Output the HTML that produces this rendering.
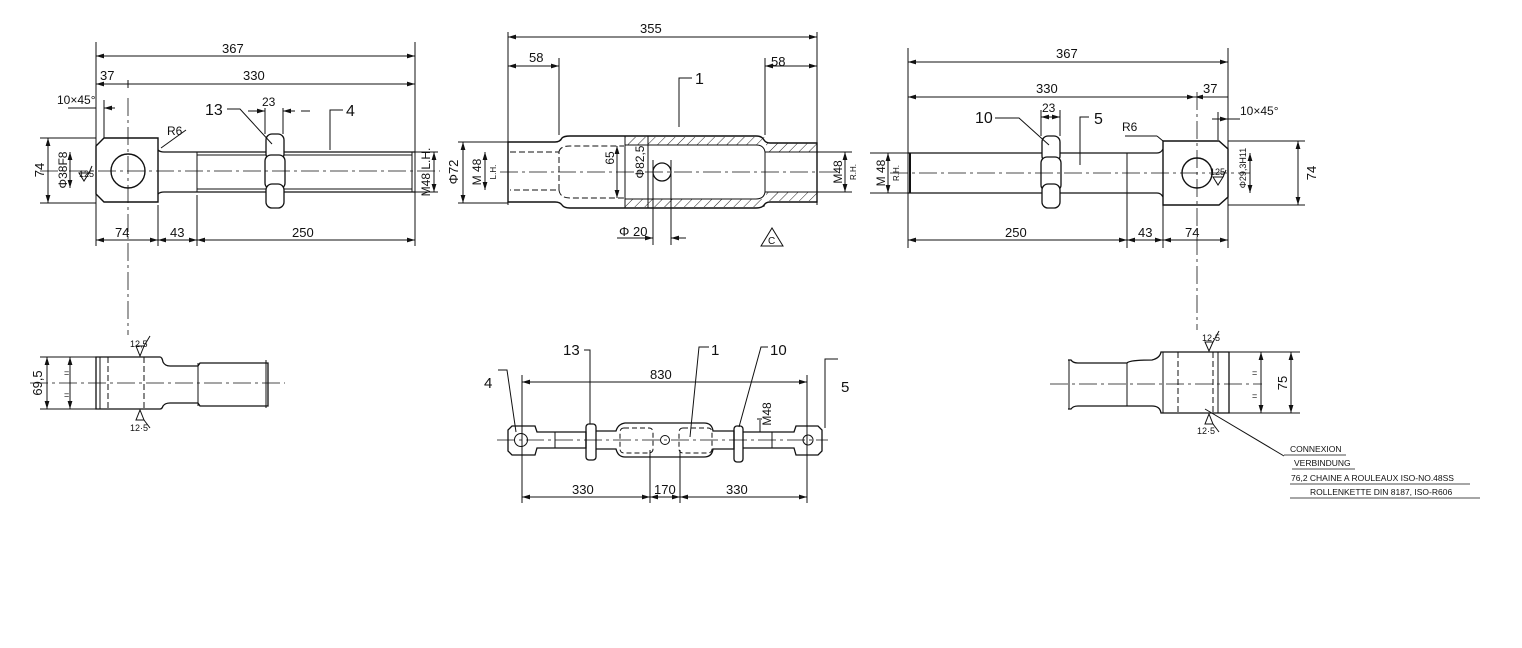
<!DOCTYPE html>
<html><head><meta charset="utf-8"><style>
html,body{margin:0;padding:0;background:#fff;}
svg{display:block;}
text{font-family:"Liberation Sans",sans-serif;fill:#111;}
</style></head><body>
<svg width="1522" height="648" viewBox="0 0 1522 648" xmlns="http://www.w3.org/2000/svg">
<defs>
<marker id="a" viewBox="0 0 10 6" refX="10" refY="3" markerWidth="8" markerHeight="5" orient="auto-start-reverse"><path d="M0,0L10,3L0,6z" fill="#111"/></marker>
<pattern id="h" width="7" height="7" patternUnits="userSpaceOnUse" patternTransform="rotate(45)"><line x1="0" y1="0" x2="0" y2="7" stroke="#222" stroke-width="1"/></pattern>
</defs>
<g stroke="#111" stroke-width="1" fill="none">
<!-- ===== LEFT VIEW (part 4) ===== -->
<line x1="96" y1="42" x2="96" y2="246"/><line x1="415" y1="42" x2="415" y2="246"/>
<line x1="96" y1="56" x2="415" y2="56" marker-start="url(#a)" marker-end="url(#a)"/>
<line x1="96" y1="84" x2="415" y2="84" marker-start="url(#a)" marker-end="url(#a)"/>
<line x1="128" y1="80" x2="128" y2="88"/>
<line x1="68" y1="108" x2="96" y2="108"/><line x1="104" y1="108" x2="115" y2="108" marker-start="url(#a)"/>
<line x1="104" y1="100" x2="104" y2="138"/>
<path d="M104,138H158V202H104L96,194V146Z" stroke-width="1.4"/>
<circle cx="128" cy="171" r="17" stroke-width="1.4"/>
<path d="M158,150Q160,152 164,152H415M164,192Q160,192 158,194M164,192H415" stroke-width="1.3"/>
<line x1="197" y1="152" x2="197" y2="192"/><line x1="197" y1="155" x2="412" y2="155"/><line x1="197" y1="189" x2="412" y2="189"/>
<line x1="412" y1="152" x2="412" y2="192"/>
<line x1="161" y1="148" x2="186" y2="130"/>
<rect x="266" y="160" width="18" height="24" fill="#fff"/>
<rect x="266" y="134" width="18" height="26" rx="6" fill="#fff" stroke-width="1.3"/>
<rect x="265" y="155" width="20" height="34" rx="6" fill="#fff" stroke-width="1.3"/>
<rect x="266" y="184" width="18" height="24" rx="6" fill="#fff" stroke-width="1.3"/>
<line x1="265" y1="108" x2="265" y2="134"/><line x1="283" y1="108" x2="283" y2="134"/>
<line x1="248" y1="111" x2="265" y2="111" marker-end="url(#a)"/><line x1="283" y1="111" x2="310" y2="111" marker-start="url(#a)" stroke-dasharray="12 6"/>
<path d="M227,109H240L272,144"/>
<path d="M343,110H330V150"/>
<line x1="40" y1="171" x2="440" y2="171" stroke-dasharray="18 4 3 4" stroke-width=".8"/>
<line x1="128" y1="98" x2="128" y2="335" stroke-dasharray="18 4 3 4" stroke-width=".8"/>
<line x1="40" y1="138" x2="96" y2="138"/><line x1="40" y1="203" x2="96" y2="203"/>
<line x1="48" y1="138" x2="48" y2="203" marker-start="url(#a)" marker-end="url(#a)"/>
<line x1="70" y1="152" x2="70" y2="188" marker-start="url(#a)" marker-end="url(#a)"/>
<line x1="415" y1="152" x2="438" y2="152"/><line x1="415" y1="192" x2="438" y2="192"/>
<line x1="434" y1="152" x2="434" y2="192" marker-start="url(#a)" marker-end="url(#a)"/>
<path d="M79,173H89L84,181Z"/><line x1="89" y1="173" x2="92" y2="166"/>
<line x1="158" y1="205" x2="158" y2="246"/><line x1="197" y1="195" x2="197" y2="246"/>
<line x1="96" y1="240" x2="158" y2="240" marker-start="url(#a)" marker-end="url(#a)"/>
<line x1="158" y1="240" x2="197" y2="240" marker-start="url(#a)" marker-end="url(#a)"/>
<line x1="197" y1="240" x2="415" y2="240" marker-start="url(#a)" marker-end="url(#a)"/>

<!-- ===== MIDDLE VIEW (part 1) ===== -->
<line x1="508" y1="32" x2="508" y2="205"/><line x1="817" y1="32" x2="817" y2="205"/>
<line x1="508" y1="37" x2="817" y2="37" marker-start="url(#a)" marker-end="url(#a)"/>
<line x1="559" y1="58" x2="559" y2="135"/><line x1="765" y1="58" x2="765" y2="135"/>
<line x1="508" y1="66" x2="559" y2="66" marker-start="url(#a)" marker-end="url(#a)"/>
<line x1="765" y1="66" x2="817" y2="66" marker-start="url(#a)" marker-end="url(#a)"/>
<rect x="625" y="137" width="140" height="8" fill="url(#h)" stroke="none"/>
<rect x="625" y="199" width="140" height="8" fill="url(#h)" stroke="none"/>
<rect x="766" y="143" width="51" height="9" fill="url(#h)" stroke="none"/>
<rect x="766" y="192" width="51" height="9" fill="url(#h)" stroke="none"/>
<path d="M508,142H555Q560,142 562,138Q564,136 570,136H756Q762,136 764,140Q766,143 770,143H817V202H770Q766,202 764,205Q762,208 756,208H570Q564,208 562,205Q560,202 555,202H508Z" stroke-width="1.4"/>
<path d="M510,152H559V190H510M559,152Q560,146 570,146H624M559,190Q560,198 570,198H624" stroke-dasharray="6 3"/>
<line x1="625" y1="136" x2="625" y2="208"/><line x1="648" y1="136" x2="648" y2="208"/>
<path d="M625,145H756Q764,145 765,152H817M625,199H756Q764,199 765,192H817"/>
<line x1="765" y1="152" x2="765" y2="192"/>
<circle cx="662" cy="172" r="9" stroke-width="1.3"/>
<line x1="500" y1="172" x2="840" y2="172" stroke-dasharray="18 4 3 4" stroke-width=".8"/>
<line x1="653" y1="160" x2="653" y2="245"/><line x1="671" y1="160" x2="671" y2="245"/>
<line x1="617" y1="238" x2="653" y2="238" marker-end="url(#a)"/><line x1="671" y1="238" x2="686" y2="238" marker-start="url(#a)"/>
<path d="M679,127V78H692"/>
<line x1="458" y1="142" x2="508" y2="142"/><line x1="458" y1="203" x2="508" y2="203"/>
<line x1="463" y1="142" x2="463" y2="203" marker-start="url(#a)" marker-end="url(#a)"/>
<line x1="485" y1="152" x2="485" y2="190" marker-start="url(#a)" marker-end="url(#a)"/>
<line x1="617" y1="146" x2="617" y2="198" marker-start="url(#a)" marker-end="url(#a)"/>
<line x1="817" y1="152" x2="852" y2="152"/><line x1="817" y1="192" x2="852" y2="192"/>
<line x1="845" y1="152" x2="845" y2="192" marker-start="url(#a)" marker-end="url(#a)"/>
<path d="M761,246L772,228L783,246Z"/>

<!-- ===== RIGHT VIEW (part 5) ===== -->
<line x1="908" y1="48" x2="908" y2="248"/><line x1="1228" y1="48" x2="1228" y2="248"/>
<line x1="908" y1="62" x2="1228" y2="62" marker-start="url(#a)" marker-end="url(#a)"/>
<line x1="908" y1="97" x2="1195" y2="97" marker-start="url(#a)" marker-end="url(#a)"/>
<line x1="1195" y1="97" x2="1228" y2="97" marker-start="url(#a)"/>
<line x1="1212" y1="119" x2="1228" y2="119" marker-end="url(#a)"/><line x1="1228" y1="119" x2="1240" y2="119"/>
<line x1="1218" y1="112" x2="1218" y2="140"/>
<path d="M1163,141H1219L1228,149V197L1219,205H1163Z" stroke-width="1.4"/>
<circle cx="1197" cy="173" r="15" stroke-width="1.4"/>
<path d="M908,153H1157Q1161,153 1163,149M908,193H1157Q1161,193 1163,197" stroke-width="1.3"/>
<line x1="910" y1="153" x2="910" y2="193" stroke-width="2"/>
<line x1="1127" y1="153" x2="1127" y2="248"/><line x1="1163" y1="205" x2="1163" y2="248"/>
<line x1="1125" y1="136" x2="1157" y2="136"/><line x1="1157" y1="136" x2="1163" y2="141"/>
<rect x="1042" y="136" width="18" height="26" rx="6" fill="#fff" stroke-width="1.3"/>
<rect x="1041" y="157" width="20" height="34" rx="6" fill="#fff" stroke-width="1.3"/>
<rect x="1042" y="184" width="18" height="24" rx="6" fill="#fff" stroke-width="1.3"/>
<line x1="1041" y1="110" x2="1041" y2="136"/><line x1="1060" y1="110" x2="1060" y2="136"/>
<line x1="1041" y1="117" x2="1060" y2="117" marker-start="url(#a)" marker-end="url(#a)"/>
<path d="M995,118H1019L1049,145"/>
<path d="M1089,117H1080V165"/>
<line x1="890" y1="173" x2="1250" y2="173" stroke-dasharray="18 4 3 4" stroke-width=".8"/>
<line x1="1197" y1="92" x2="1197" y2="330" stroke-dasharray="18 4 3 4" stroke-width=".8"/>
<line x1="870" y1="153" x2="908" y2="153"/><line x1="870" y1="193" x2="908" y2="193"/>
<line x1="888" y1="153" x2="888" y2="193" marker-start="url(#a)" marker-end="url(#a)"/>
<line x1="1228" y1="141" x2="1305" y2="141"/><line x1="1228" y1="205" x2="1305" y2="205"/>
<line x1="1298" y1="141" x2="1298" y2="205" marker-start="url(#a)" marker-end="url(#a)"/>
<line x1="1250" y1="153" x2="1250" y2="193" marker-start="url(#a)" marker-end="url(#a)"/>
<path d="M1213,177H1223L1218,185Z"/><line x1="1223" y1="177" x2="1226" y2="170"/>
<line x1="908" y1="240" x2="1127" y2="240" marker-start="url(#a)" marker-end="url(#a)"/>
<line x1="1127" y1="240" x2="1163" y2="240" marker-start="url(#a)" marker-end="url(#a)"/>
<line x1="1163" y1="240" x2="1228" y2="240" marker-start="url(#a)" marker-end="url(#a)"/>

<!-- ===== BOTTOM LEFT ===== -->
<path d="M96,357H160Q162,357 163,362Q165,366 170,366H198L200,363H268V406H200L198,403H170Q165,403 163,406Q162,409 160,409H96Z" stroke-width="1.3"/>
<line x1="96" y1="357" x2="96" y2="409"/><line x1="100" y1="357" x2="100" y2="409"/>
<line x1="108" y1="357" x2="108" y2="409" stroke-dasharray="6 3"/><line x1="144" y1="357" x2="144" y2="409" stroke-dasharray="6 3"/>
<line x1="198" y1="363" x2="198" y2="406"/><line x1="266" y1="360" x2="266" y2="408"/>
<line x1="30" y1="383" x2="285" y2="383" stroke-dasharray="18 4 3 4" stroke-width=".8"/>
<line x1="40" y1="357" x2="96" y2="357"/><line x1="40" y1="409" x2="96" y2="409"/>
<line x1="47" y1="357" x2="47" y2="409" marker-start="url(#a)" marker-end="url(#a)"/>
<line x1="70" y1="357" x2="70" y2="409" marker-start="url(#a)" marker-end="url(#a)"/>
<path d="M136,346H144L140,356Z"/><line x1="144" y1="346" x2="150" y2="336"/>
<path d="M136,420H144L140,410Z"/><line x1="144" y1="420" x2="150" y2="428"/>

<!-- ===== BOTTOM MIDDLE (assembly) ===== -->
<line x1="522" y1="375" x2="522" y2="503"/><line x1="807" y1="375" x2="807" y2="503"/>
<line x1="522" y1="382" x2="807" y2="382" marker-start="url(#a)" marker-end="url(#a)"/>
<line x1="522" y1="497" x2="650" y2="497" marker-start="url(#a)" marker-end="url(#a)"/>
<line x1="650" y1="497" x2="680" y2="497" marker-start="url(#a)" marker-end="url(#a)"/>
<line x1="680" y1="497" x2="807" y2="497" marker-start="url(#a)" marker-end="url(#a)"/>
<line x1="650" y1="450" x2="650" y2="503"/><line x1="680" y1="450" x2="680" y2="503"/>
<path d="M512,426H535L537,432H586V448H537L535,455H512L508,451V430Z" stroke-width="1.3"/>
<circle cx="521" cy="440" r="6.5"/>
<line x1="555" y1="432" x2="555" y2="448"/>
<rect x="586" y="424" width="10" height="36" rx="3" stroke-width="1.3"/>
<path d="M596,431H616Q618,424 625,423H704Q712,423 713,431H734V449H713Q712,457 704,457H625Q618,457 616,449H596" stroke-width="1.3"/>
<rect x="620" y="428" width="33" height="25" rx="4" stroke-dasharray="5 3"/>
<rect x="679" y="428" width="33" height="25" rx="4" stroke-dasharray="5 3"/>
<circle cx="665" cy="440" r="4.5"/>
<rect x="734" y="426" width="9" height="36" rx="3" stroke-width="1.3"/>
<path d="M743,432H794L796,426H818L822,430V451L818,455H796L794,448H743" stroke-width="1.3"/>
<circle cx="808" cy="440" r="5"/>
<line x1="772" y1="432" x2="772" y2="448"/>
<line x1="760" y1="420" x2="760" y2="432"/><line x1="757" y1="419" x2="762" y2="419"/>
<line x1="497" y1="440" x2="828" y2="440" stroke-dasharray="18 4 3 4" stroke-width=".8"/>
<path d="M498,370H507L516,432"/><path d="M584,350H590V424"/><path d="M709,347H699L690,437"/><path d="M768,347H761L739,427"/><path d="M838,359H825V428"/>

<!-- ===== BOTTOM RIGHT ===== -->
<path d="M1068,360H1071Q1073,363 1078,363H1127Q1129,360 1152,360Q1160,358 1161,352H1229V413H1161Q1160,406 1152,406H1078Q1073,406 1071,409H1068" stroke-width="1.3"/>
<line x1="1127" y1="363" x2="1127" y2="406"/><line x1="1069" y1="360" x2="1069" y2="409"/>
<line x1="1163" y1="352" x2="1163" y2="413"/>
<line x1="1178" y1="352" x2="1178" y2="413" stroke-dasharray="6 3"/><line x1="1213" y1="352" x2="1213" y2="413" stroke-dasharray="6 3"/>
<line x1="1218" y1="352" x2="1218" y2="413"/><line x1="1229" y1="352" x2="1229" y2="413"/>
<line x1="1050" y1="384" x2="1262" y2="384" stroke-dasharray="18 4 3 4" stroke-width=".8"/>
<line x1="1229" y1="352" x2="1300" y2="352"/><line x1="1229" y1="413" x2="1300" y2="413"/>
<line x1="1291" y1="352" x2="1291" y2="413" marker-start="url(#a)" marker-end="url(#a)"/>
<line x1="1261" y1="352" x2="1261" y2="413" marker-start="url(#a)" marker-end="url(#a)"/>
<path d="M1205,342H1213L1209,351Z"/><line x1="1213" y1="342" x2="1219" y2="331"/>
<path d="M1205,424H1213L1209,414Z"/><line x1="1213" y1="424" x2="1219" y2="432"/>
<path d="M1205,409L1284,456"/>
<g stroke-width=".8"><line x1="1284" y1="455" x2="1346" y2="455"/><line x1="1292" y1="469" x2="1355" y2="469"/>
<line x1="1290" y1="484" x2="1470" y2="484"/><line x1="1290" y1="498" x2="1480" y2="498"/></g>
</g>

<g font-size="13">
<text x="222" y="53">367</text><text x="243" y="80">330</text><text x="100" y="80">37</text>
<text x="57" y="104" font-size="12">10×45°</text>
<text x="205" y="115" font-size="16">13</text><text x="262" y="106" font-size="12">23</text><text x="346" y="116" font-size="16">4</text>
<text x="167" y="135" font-size="12">R6</text>
<text x="115" y="237">74</text><text x="170" y="237">43</text><text x="292" y="237">250</text>
<text x="79" y="177" font-size="9">125</text>
<text transform="translate(44,170) rotate(-90)" font-size="13" text-anchor="middle">74</text>
<text transform="translate(67,170) rotate(-90)" font-size="12" text-anchor="middle">Φ38F8</text>
<text transform="translate(430,172) rotate(-90)" font-size="12" text-anchor="middle">M48 L.H.</text>

<text x="640" y="33">355</text><text x="529" y="62">58</text><text x="771" y="66">58</text>
<text x="695" y="84" font-size="16">1</text>
<text x="619" y="236">Φ 20</text><text x="768" y="244" font-size="10">C</text>
<text transform="translate(458,172) rotate(-90)" text-anchor="middle">Φ72</text>
<text transform="translate(481,172) rotate(-90)" text-anchor="middle" font-size="12">M 48</text>
<text transform="translate(496,172) rotate(-90)" text-anchor="middle" font-size="8">L.H.</text>
<text transform="translate(614,158) rotate(-90)" text-anchor="middle" font-size="12">65</text>
<text transform="translate(644,162) rotate(-90)" text-anchor="middle" font-size="12">Φ82,5</text>
<text transform="translate(842,172) rotate(-90)" text-anchor="middle" font-size="12">M48</text>
<text transform="translate(856,172) rotate(-90)" text-anchor="middle" font-size="8">R.H.</text>

<text x="1056" y="58">367</text><text x="1036" y="93">330</text><text x="1203" y="93">37</text>
<text x="1240" y="115" font-size="12">10×45°</text>
<text x="975" y="123" font-size="16">10</text><text x="1042" y="112" font-size="12">23</text><text x="1094" y="124" font-size="16">5</text>
<text x="1122" y="131" font-size="12">R6</text>
<text x="1005" y="237">250</text><text x="1138" y="237">43</text><text x="1185" y="237">74</text>
<text x="1210" y="175" font-size="9">125</text>
<text transform="translate(885,173) rotate(-90)" text-anchor="middle" font-size="12">M 48</text>
<text transform="translate(899,173) rotate(-90)" text-anchor="middle" font-size="8">R.H.</text>
<text transform="translate(1246,168) rotate(-90)" text-anchor="middle" font-size="9">Φ29,3H11</text>
<text transform="translate(1316,173) rotate(-90)" text-anchor="middle">74</text>

<text transform="translate(42,383) rotate(-90)" text-anchor="middle">69,5</text>
<text x="64" y="376" font-size="9">=</text><text x="64" y="398" font-size="9">=</text>
<text x="130" y="347" font-size="9">12,5</text><text x="130" y="431" font-size="9">12·5</text>

<text x="563" y="355" font-size="15">13</text><text x="711" y="355" font-size="15">1</text>
<text x="770" y="355" font-size="15">10</text><text x="484" y="388" font-size="15">4</text><text x="841" y="392" font-size="15">5</text>
<text x="650" y="379">830</text><text x="572" y="494">330</text><text x="654" y="494">170</text><text x="726" y="494">330</text>
<text transform="translate(771,414) rotate(-90)" text-anchor="middle" font-size="12">M48</text>

<text x="1202" y="341" font-size="9">12·5</text><text x="1197" y="434" font-size="9">12·5</text>
<text x="1252" y="376" font-size="9">=</text><text x="1252" y="399" font-size="9">=</text>
<text transform="translate(1287,383) rotate(-90)" text-anchor="middle">75</text>
<g font-size="8.5"><text x="1290" y="452">CONNEXION</text><text x="1294" y="466">VERBINDUNG</text>
<text x="1291" y="481">76,2 CHAINE A ROULEAUX  ISO-NO.48SS</text>
<text x="1310" y="495">ROLLENKETTE  DIN 8187, ISO-R606</text></g>
</g>
</svg>
</body></html>
